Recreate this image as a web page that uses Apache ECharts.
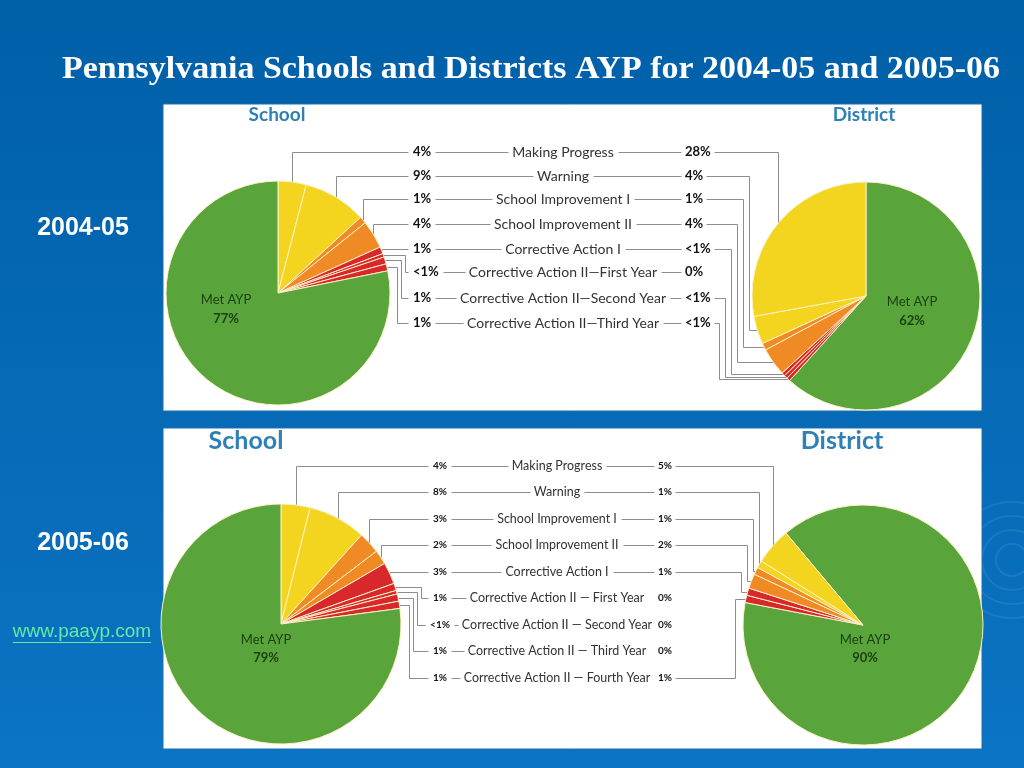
<!DOCTYPE html>
<html><head><meta charset="utf-8">
<script src="https://cdn.jsdelivr.net/npm/echarts@6.0.0/dist/echarts.min.js"></script>
<style>html,body{margin:0;padding:0;background:#0066ae;overflow:hidden}#chart{width:1024px;height:768px}</style>
</head><body><div id="chart"></div>
<script>
// ---------------- data ----------------
const titleText = 'Pennsylvania Schools and Districts AYP for 2004-05 and 2005-06';
const yearLabels = ['2004-05', '2005-06'];
const sourceText = 'www.paayp.com';
const pieTitles = ['School', 'District'];
const metLabel = 'Met AYP';

const categories0405 = ['Making Progress', 'Warning', 'School Improvement I', 'School Improvement II',
  'Corrective Action I', 'Corrective Action II\u2014First Year', 'Corrective Action II\u2014Second Year',
  'Corrective Action II\u2014Third Year'];
const schoolValues0405 = [4, 9, 1, 4, 1, 0.5, 1, 1];      // 0.5 = "<1%"
const schoolMetAYP0405 = 77;
const districtValues0405 = [28, 4, 1, 4, 0.5, 0, 0.5, 0.5];
const districtMetAYP0405 = 62;

const categories0506 = ['Making Progress', 'Warning', 'School Improvement I', 'School Improvement II',
  'Corrective Action I', 'Corrective Action II \u2014 First Year', 'Corrective Action II \u2014 Second Year',
  'Corrective Action II \u2014 Third Year', 'Corrective Action II \u2014 Fourth Year'];
const schoolValues0506 = [4, 8, 3, 2, 3, 1, 0.5, 1, 1];
const schoolMetAYP0506 = 79;
const districtValues0506 = [5, 1, 1, 2, 1, 0, 0, 0, 1];
const districtMetAYP0506 = 90;

// ---------------- styles ----------------
const GREEN = '#5aa53b', YELLOW = '#f3d41f', ORANGE = '#ef8a25', RED = '#d8282c';
const catColors0405 = [YELLOW, YELLOW, ORANGE, ORANGE, RED, RED, RED, RED];
const catColors0506 = [YELLOW, YELLOW, ORANGE, ORANGE, RED, RED, RED, RED, RED];
const LINE = '#8d8d8d';
const HEAD = '#2f80b6';
const MET = '#1c4012';

function pctText(v) { return v === 0 ? '0%' : (v < 1 ? '<1%' : v + '%'); }

const cv = document.createElement('canvas').getContext('2d');
function tw(t, f) { cv.font = f; return cv.measureText(t).width; }

const panels = [
  { cats: categories0405, s: schoolValues0405, sMet: schoolMetAYP0405, d: districtValues0405, dMet: districtMetAYP0405, colors: catColors0405,
    year: yearLabels[0], yearY: 228,
    rect: [163, 104, 819, 307],
    rows: [152, 176, 199, 224, 249, 272, 298, 323],
    sPie: { cx: 278, cy: 293, r: 112, start: 90 },
    dPie: { cx: 866, cy: 296, r: 114, start: 90 },
    sPctX: 413, sPctAlign: 'left', catX: 563, dPctX: 685,
    pctFont: 'bold 13px Lato', catFont: '14px Lato',
    upElbow: 405, upGap: 4, dGap: 6, rightConnRows: 99,
    headFont: 'bold 19px Lato', headS: [277, 115], headD: [864, 115],
    metSize: 13, metS: [-52, 7], metD: [46, 6], metLH: 19 },
  { cats: categories0506, s: schoolValues0506, sMet: schoolMetAYP0506, d: districtValues0506, dMet: districtMetAYP0506, colors: catColors0506,
    year: yearLabels[1], yearY: 543,
    rect: [163, 428, 819, 321],
    rows: [466, 492, 519, 545, 572, 598, 625, 651, 678],
    sPie: { cx: 281, cy: 624, r: 120, start: 90 },
    dPie: { cx: 863, cy: 625, r: 120, start: 130 },
    sPctX: 440, sPctAlign: 'center', catX: 557, dPctX: 658,
    pctFont: 'bold 10px Lato', catFont: '12.5px Lato',
    upElbow: 421, upGap: 4, dGap: 6, rightConnRows: 5,
    headFont: 'bold 25px Lato', headS: [246, 441], headD: [842, 441],
    metSize: 13, metS: [-15, 16], metD: [2, 15], metLH: 18 }
];

const g = [];
const series = [];

// background
g.push({ type: 'rect', z: 0, silent: true, shape: { x: 0, y: 0, width: 1024, height: 768 },
  style: { fill: new echarts.graphic.LinearGradient(0, 0, 0, 1, [{ offset: 0, color: '#005fa7' }, { offset: 1, color: '#0b74c4' }]) } });
[16, 30, 44, 58].forEach(function (rr) {
  g.push({ type: 'circle', z: 1, silent: true, shape: { cx: 1012, cy: 560, r: rr }, style: { fill: null, stroke: 'rgba(255,255,255,0.08)', lineWidth: 2 } });
});

// title
(function () {
  const f = 'bold 32px "Liberation Serif"';
  const w = tw(titleText, f);
  g.push({ type: 'text', z: 20, silent: true, x: 531, y: 70, scaleX: 938 / w,
    style: { text: titleText, font: f, fill: '#ffffff', align: 'center', verticalAlign: 'middle', textAlign: 'center', textVerticalAlign: 'middle' } });
})();

// source link
(function () {
  const f = '19px "Liberation Sans"';
  const w = tw(sourceText, f);
  g.push({ type: 'text', z: 20, silent: true, x: 82, y: 632,
    style: { text: sourceText, font: f, fill: '#64eaa3', align: 'center', verticalAlign: 'middle', textAlign: 'center', textVerticalAlign: 'middle' } });
  g.push({ type: 'line', z: 20, silent: true, shape: { x1: 82 - w / 2, y1: 642.5, x2: 82 + w / 2, y2: 642.5 }, style: { stroke: '#64eaa3', lineWidth: 1 } });
})();

function text(x, y, t, f, fill, align, z) {
  g.push({ type: 'text', z: z || 20, silent: true, x: x, y: y,
    style: { text: t, font: f, fill: fill, align: align, verticalAlign: 'middle', textAlign: align, textVerticalAlign: 'middle' } });
}
function poly(pts) {
  g.push({ type: 'polyline', z: 5, silent: true, shape: { points: pts.map(function (p) { return [Math.round(p[0]) + 0.5, Math.round(p[1]) + 0.5]; }) },
    style: { stroke: LINE, lineWidth: 1, fill: null } });
}

// edge point (mid-angle on the rim) of every slice, using the pie's own angle convention
function edgePoints(pie, data) {
  const total = data.reduce(function (a, d) { return a + d.value; }, 0);
  let acc = 0; const out = {};
  data.forEach(function (d) {
    const mid = acc + d.value / 2; acc += d.value;
    const th = (90 - pie.start + mid / total * 360) * Math.PI / 180;
    out[d.name] = [pie.cx + pie.r * Math.sin(th), pie.cy - pie.r * Math.cos(th)];
  });
  return out;
}

function pieSeries(pie, data) {
  return { type: 'pie', z: 10, silent: true, animation: false, center: [pie.cx, pie.cy], radius: pie.r,
    startAngle: pie.start, clockwise: true, avoidLabelOverlap: false,
    label: { show: false }, labelLine: { show: false }, data: data };
}

panels.forEach(function (P) {
  const n = P.cats.length;
  g.push({ type: 'rect', z: 3, silent: true, shape: { x: P.rect[0], y: P.rect[1], width: P.rect[2], height: P.rect[3] },
    style: { fill: '#ffffff', stroke: '#1f6fae', lineWidth: 1 } });
  text(83, P.yearY, P.year, 'bold 25px "Liberation Sans"', '#ffffff', 'center');
  text(P.headS[0], P.headS[1], pieTitles[0], P.headFont, HEAD, 'center');
  text(P.headD[0], P.headD[1], pieTitles[1], P.headFont, HEAD, 'center');

  const sData = [];
  P.cats.forEach(function (c, i) { sData.push({ name: c, value: P.s[i], itemStyle: { color: P.colors[i], borderColor: '#fdf1c6', borderWidth: P.s[i] ? 1 : 0 } }); });
  sData.push({ name: metLabel, value: P.sMet, itemStyle: { color: GREEN, borderColor: '#fdf1c6', borderWidth: 1 } });
  const dData = [{ name: metLabel, value: P.dMet, itemStyle: { color: GREEN, borderColor: '#fdf1c6', borderWidth: 1 } }];
  for (let i = n - 1; i >= 0; i--) dData.push({ name: P.cats[i], value: P.d[i], itemStyle: { color: P.colors[i], borderColor: '#fdf1c6', borderWidth: P.d[i] ? 1 : 0 } });
  series.push(pieSeries(P.sPie, sData));
  series.push(pieSeries(P.dPie, dData));
  const sEdge = edgePoints(P.sPie, sData);
  const dEdge = edgePoints(P.dPie, dData);

  text(P.sPie.cx + P.metS[0], P.sPie.cy + P.metS[1], metLabel, P.metSize + 'px Lato', MET, 'center', 30);
  text(P.sPie.cx + P.metS[0], P.sPie.cy + P.metS[1] + P.metLH, P.sMet + '%', 'bold ' + P.metSize + 'px Lato', MET, 'center', 30);
  text(P.dPie.cx + P.metD[0], P.dPie.cy + P.metD[1], metLabel, P.metSize + 'px Lato', MET, 'center', 30);
  text(P.dPie.cx + P.metD[0], P.dPie.cy + P.metD[1] + P.metLH, P.dMet + '%', 'bold ' + P.metSize + 'px Lato', MET, 'center', 30);

  let upK = 0, prevD = Infinity;
  P.cats.forEach(function (c, i) {
    const y = P.rows[i];
    const sT = pctText(P.s[i]), dT = pctText(P.d[i]);
    const sw = tw(sT, P.pctFont), dw = tw(dT, P.pctFont), cw = tw(c, P.catFont);
    const sLeft = P.sPctAlign === 'center' ? P.sPctX - sw / 2 : P.sPctX;
    text(P.sPctX, y, sT, P.pctFont, '#111111', P.sPctAlign);
    text(P.catX, y, c, P.catFont, '#333333', 'center');
    text(P.dPctX, y, dT, P.pctFont, '#111111', 'left');
    const cL = P.catX - cw / 2, cR = P.catX + cw / 2;
    if (cL - (sLeft + sw) > 9) poly([[sLeft + sw + 4, y], [cL - 4, y]]);
    if (i < P.rightConnRows && P.dPctX - cR > 9) poly([[cR + 4, y], [P.dPctX - 4, y]]);

    const se = sEdge[c];
    const x0 = sLeft - 5;
    if (se[1] >= y - 1) {
      poly([[x0, y], [se[0], y], [se[0], se[1]]]);
    } else {
      const e = P.upElbow - upK * P.upGap; upK++;
      poly([[x0, y], [e, y], [e, se[1]], [se[0], se[1]]]);
    }
    if (P.d[i] > 0) {
      const de = dEdge[c];
      const x1 = P.dPctX + dw + 3;
      let cap = de[0];
      if (de[1] > y && de[1] > P.dPie.cy) cap = P.dPie.cx - P.dPie.r - 3;
      const e = Math.min(prevD - P.dGap, cap);
      prevD = e;
      poly([[x1, y], [e, y], [e, de[1]], [de[0], de[1]]]);
    }
  });
});

const chart = echarts.init(document.getElementById('chart'), null, { renderer: 'canvas', width: 1024, height: 768 });
chart.setOption({ animation: false, graphic: { elements: g }, series: series });
</script>
</body></html>
